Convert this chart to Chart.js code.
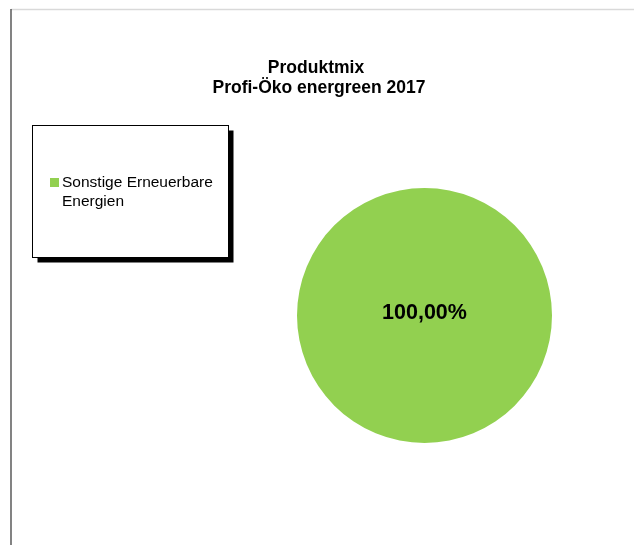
<!DOCTYPE html>
<html>
<head>
<meta charset="utf-8">
<script src="https://cdn.jsdelivr.net/npm/chart.js@4.4.1/dist/chart.umd.min.js"></script>
<style>
  html, body { margin: 0; padding: 0; background: #fff; }
  #wrap { position: relative; width: 634px; height: 545px; }
</style>
</head>
<body>
<div id="wrap"><canvas id="mixChart" width="634" height="545"></canvas></div>
<script>
// data
const categories = ['Sonstige Erneuerbare Energien'];
const shares = [100];
const sliceColors = ['#92D050'];
const titleLines = ['Produktmix', 'Profi-Öko energreen 2017'];

const FONT = '"Liberation Sans", Arial, sans-serif';

function fmtPercent(v) {
  return v.toFixed(2).replace('.', ',') + '%';
}

// frame of the chart object (left and top edges only visible)
const framePlugin = {
  id: 'frame',
  beforeDraw(chart) {
    const ctx = chart.ctx;
    ctx.save();
    ctx.fillStyle = '#fff';
    ctx.fillRect(0, 0, chart.width, chart.height);
    ctx.strokeStyle = '#d9d9d9';
    ctx.lineWidth = 1.3;
    ctx.beginPath();
    ctx.moveTo(11, 9.5);
    ctx.lineTo(chart.width, 9.5);
    ctx.stroke();
    ctx.strokeStyle = '#404040';
    ctx.beginPath();
    ctx.moveTo(11, 9);
    ctx.lineTo(11, chart.height);
    ctx.stroke();
    ctx.restore();
  }
};

// two-line bold title
const titlePlugin = {
  id: 'twoLineTitle',
  afterDraw(chart) {
    const ctx = chart.ctx;
    ctx.save();
    ctx.fillStyle = '#000';
    ctx.font = 'bold 17.5px ' + FONT;
    ctx.textAlign = 'center';
    ctx.textBaseline = 'alphabetic';
    ctx.fillText(titleLines[0], 316, 73);
    ctx.fillText(titleLines[1], 319, 93);
    ctx.restore();
  }
};

// boxed legend with drop shadow, built from the chart's labels
const legendPlugin = {
  id: 'boxLegend',
  afterDraw(chart) {
    const ctx = chart.ctx;
    const box = { x: 32.5, y: 125.5, w: 196, h: 132 };
    ctx.save();
    ctx.fillStyle = '#000';
    ctx.fillRect(box.x + 5, box.y + 5, box.w, box.h);
    ctx.fillStyle = '#fff';
    ctx.fillRect(box.x, box.y, box.w, box.h);
    ctx.strokeStyle = '#000';
    ctx.lineWidth = 1;
    ctx.strokeRect(box.x, box.y, box.w, box.h);

    ctx.font = '15.5px ' + FONT;
    ctx.textBaseline = 'alphabetic';
    const colors = chart.data.datasets[0].backgroundColor;
    let y = 187;
    chart.data.labels.forEach((label, i) => {
      ctx.fillStyle = colors[i];
      ctx.fillRect(50, y - 9, 9, 9);
      ctx.fillStyle = '#000';
      const words = label.split(' ');
      let line = '';
      const maxW = 162;
      words.forEach(w => {
        const test = line ? line + ' ' + w : w;
        if (ctx.measureText(test).width > maxW && line) {
          ctx.fillText(line, 62, y);
          line = w;
          y += 19;
        } else {
          line = test;
        }
      });
      ctx.fillText(line, 62, y);
      y += 24;
    });
    ctx.restore();
  }
};

// percentage labels on slices
const labelPlugin = {
  id: 'sliceLabels',
  afterDatasetsDraw(chart) {
    const ctx = chart.ctx;
    const meta = chart.getDatasetMeta(0);
    const values = chart.data.datasets[0].data;
    const total = values.reduce((a, b) => a + b, 0);
    ctx.save();
    ctx.font = 'bold 21.5px ' + FONT;
    ctx.fillStyle = '#000';
    ctx.textAlign = 'center';
    ctx.textBaseline = 'middle';
    meta.data.forEach((arc, i) => {
      const p = values[i] / total;
      let pos;
      if (p >= 0.999) {
        pos = { x: arc.x, y: arc.y };
      } else {
        pos = arc.tooltipPosition();
      }
      ctx.fillText(fmtPercent(values[i]), pos.x, pos.y - 2);
    });
    ctx.restore();
  }
};

const canvas = document.getElementById('mixChart');
const chart = new Chart(canvas.getContext('2d'), {
  type: 'pie',
  data: {
    labels: categories,
    datasets: [{
      data: shares,
      backgroundColor: sliceColors,
      borderWidth: 0,
      hoverOffset: 0
    }]
  },
  options: {
    responsive: false,
    animation: false,
    layout: {
      padding: { left: 297, right: 82, top: 188, bottom: 102 }
    },
    plugins: {
      legend: { display: false },
      title: { display: false },
      tooltip: { enabled: false }
    }
  },
  plugins: [framePlugin, titlePlugin, legendPlugin, labelPlugin]
});
</script>
</body>
</html>
